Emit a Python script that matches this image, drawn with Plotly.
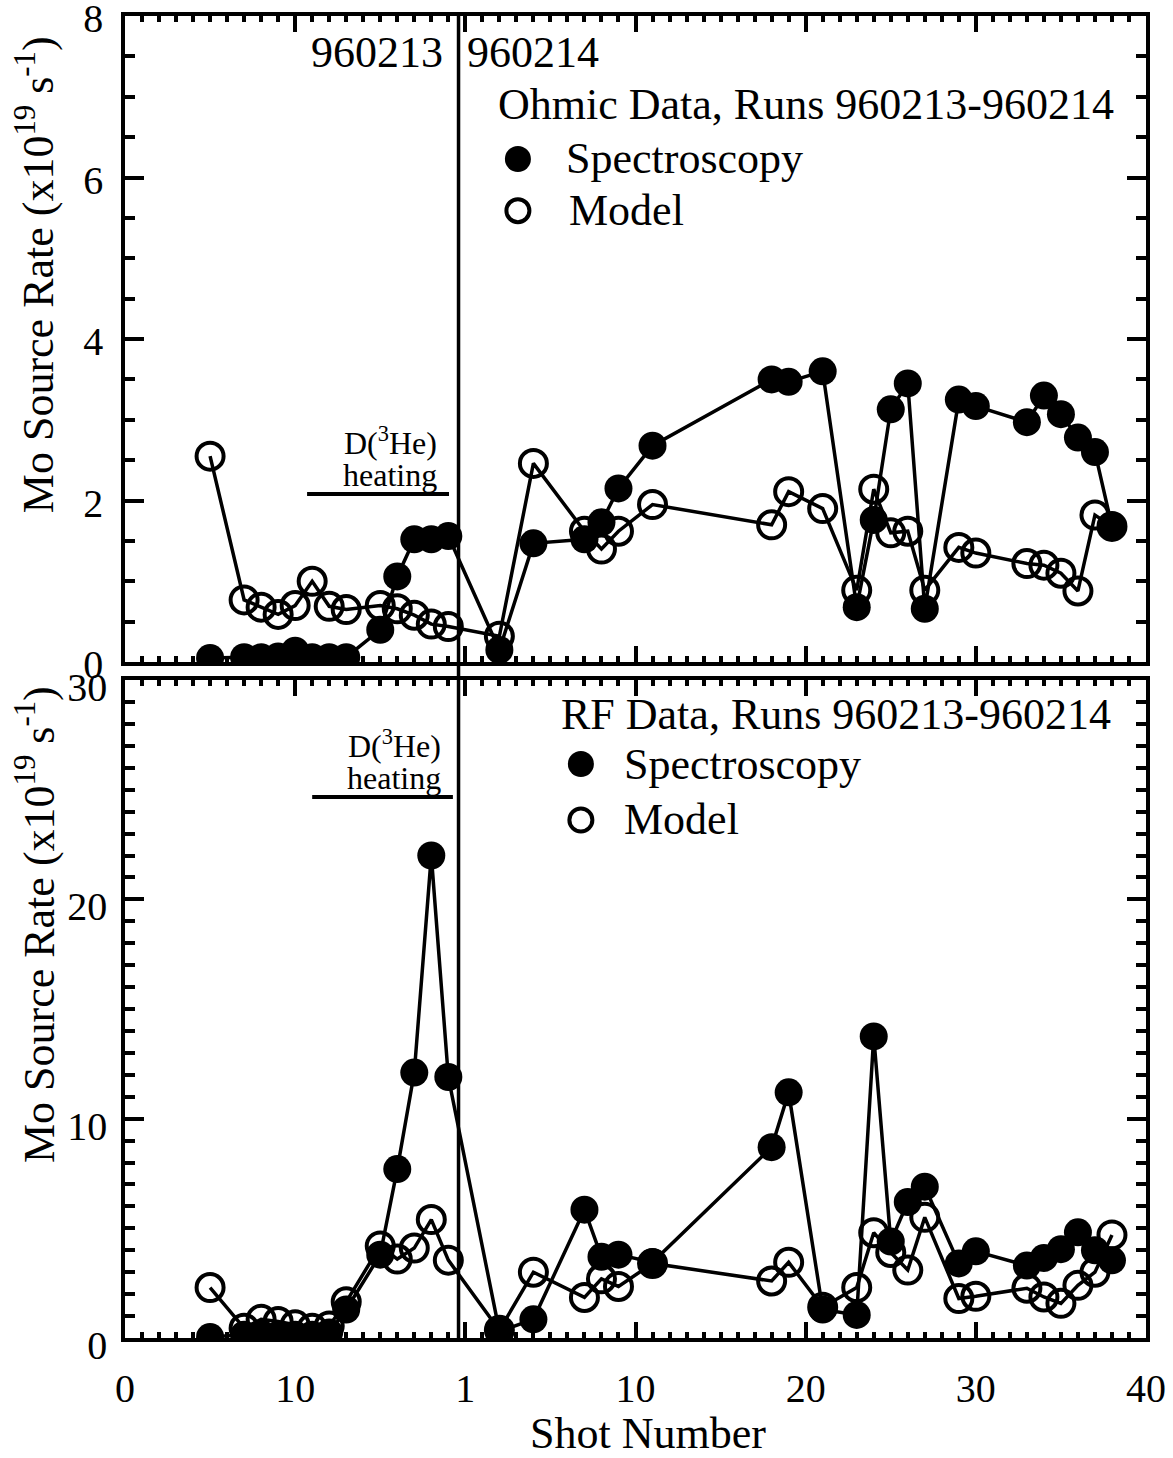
import plotly.graph_objects as go

# ---------------- data ----------------
shots = [5, 7, 8, 9, 10, 11, 12, 13, 15, 16, 17, 18, 19, 22, 24, 27, 28, 29, 31,
         38, 39, 41, 43, 44, 45, 46, 47, 49, 50, 53, 54, 55, 56, 57, 58]

ohmic_spectroscopy = [0.05, 0.06, 0.06, 0.07, 0.14, 0.06, 0.06, 0.06, 0.40, 1.06, 1.52, 1.52, 1.56,
                      0.15, 1.47, 1.52, 1.73, 2.15, 2.68, 3.50, 3.47, 3.60, 0.68, 1.76, 3.13, 3.45,
                      0.66, 3.25, 3.17, 2.97, 3.30, 3.07, 2.78, 2.60, 1.68]
ohmic_model = [2.55, 0.77, 0.68, 0.59, 0.70, 1.00, 0.69, 0.65, 0.70, 0.66, 0.58, 0.47, 0.44,
               0.32, 2.46, 1.62, 1.40, 1.62, 1.95, 1.70, 2.11, 1.90, 0.89, 2.14, 1.60, 1.62,
               0.89, 1.42, 1.35, 1.22, 1.20, 1.10, 0.88, 1.82, 1.68]

rf_spectroscopy = [0.05, 0.15, 0.20, 0.15, 0.15, 0.15, 0.25, 1.30, 3.80, 7.70, 12.10, 22.00, 11.90,
                   0.30, 0.85, 5.85, 3.70, 3.80, 3.45, 8.70, 11.20, 1.30, 1.05, 13.75, 4.40, 6.20,
                   6.90, 3.40, 3.95, 3.30, 3.65, 4.05, 4.82, 4.00, 3.54]
rf_model = [2.30, 0.45, 0.85, 0.75, 0.60, 0.45, 0.55, 1.65, 4.20, 3.60, 4.10, 5.40, 3.55,
            0.35, 3.00, 1.85, 2.70, 2.35, 3.40, 2.60, 3.45, 1.40, 2.30, 4.80, 3.90, 3.10,
            5.50, 1.80, 1.90, 2.27, 1.87, 1.58, 2.40, 3.00, 4.70]

x_tickvals = [0, 10, 20, 30, 40, 50, 60]
x_ticktext = ["0", "10", "1", "10", "20", "30", "40"]
run_boundary = 19.6
heating_start_top, heating_end_top, heating_level_top = 10.7, 19.04, 2.08
heating_start_bot, heating_end_bot, heating_level_bot = 11.0, 19.27, 24.67

SERIF = "Liberation Serif"
BLACK = "black"

fig = go.Figure()

def add_series(xa, ya, spec, model):
    fig.add_trace(go.Scatter(
        x=shots, y=spec, xaxis=xa, yaxis=ya, mode="lines+markers", name="Spectroscopy",
        showlegend=False, cliponaxis=True,
        line=dict(color=BLACK, width=3.5),
        marker=dict(symbol="circle", size=28, color=BLACK)))
    fig.add_trace(go.Scatter(
        x=shots, y=model, xaxis=xa, yaxis=ya, mode="lines+markers", name="Model",
        showlegend=False, cliponaxis=True,
        line=dict(color=BLACK, width=3.5),
        marker=dict(symbol="circle-open", size=27, color=BLACK, line=dict(width=4, color=BLACK))))

add_series("x", "y", ohmic_spectroscopy, ohmic_model)
add_series("x2", "y2", rf_spectroscopy, rf_model)

tickfont = dict(family=SERIF, size=40, color=BLACK)
common = dict(showline=True, linewidth=3.5, linecolor=BLACK, mirror="allticks",
              ticks="inside", tickwidth=3.5, tickcolor=BLACK, showgrid=False,
              zeroline=False, tickfont=tickfont, automargin=False, ticklabeloverflow="allow")

xcommon = dict(common, range=[0, 60], tickvals=x_tickvals, ticktext=x_ticktext, ticklen=16,
               minor=dict(dtick=1, ticks="inside", ticklen=6, tickwidth=3.5, tickcolor=BLACK, showgrid=False))

fig.update_layout(
    width=1173, height=1458, autosize=False,
    margin=dict(l=125, r=27, t=16, b=120),
    paper_bgcolor="white", plot_bgcolor="white",
    showlegend=False,
    xaxis=dict(xcommon, anchor="y", showticklabels=False, matches="x2"),
    xaxis2=dict(xcommon, anchor="y2", ticklabelstandoff=12),
    yaxis=dict(common, domain=[0.5113, 1.0], range=[0, 8], dtick=2, ticklen=19,
               ticklabelstandoff=10, ticklabelshift=2,
               minor=dict(dtick=0.5, ticks="inside", ticklen=10, tickwidth=3.5, tickcolor=BLACK, showgrid=False)),
    yaxis2=dict(common, domain=[0.0, 0.4977], range=[0, 30], dtick=10, ticklen=19,
                ticklabelstandoff=6, ticklabelshift=7,
                minor=dict(dtick=1, ticks="inside", ticklen=10, tickwidth=3.5, tickcolor=BLACK, showgrid=False)),
)

shapes = []
# run boundary line through both panels
shapes.append(dict(type="line", xref="x", yref="paper", x0=run_boundary, x1=run_boundary,
                   y0=0, y1=1, line=dict(color=BLACK, width=3.5)))
# heating bars
shapes.append(dict(type="line", xref="x", yref="y", x0=heating_start_top, x1=heating_end_top,
                   y0=heating_level_top, y1=heating_level_top, line=dict(color=BLACK, width=4)))
shapes.append(dict(type="line", xref="x2", yref="y2", x0=heating_start_bot, x1=heating_end_bot,
                   y0=heating_level_bot, y1=heating_level_bot, line=dict(color=BLACK, width=4)))

def legend_key(xr, yr, xc, yc, filled):
    r = 13 if filled else 11.5
    d = dict(type="circle", xref=xr, yref=yr, xsizemode="pixel", ysizemode="pixel",
             xanchor=xc, yanchor=yc, x0=-r, x1=r, y0=-r, y1=r)
    if filled:
        d.update(fillcolor=BLACK, line=dict(width=0, color=BLACK))
    else:
        d.update(fillcolor="rgba(0,0,0,0)", line=dict(width=4, color=BLACK))
    return d

shapes.append(legend_key("x", "y", 23.09, 6.23, True))
shapes.append(legend_key("x", "y", 23.09, 5.59, False))
shapes.append(legend_key("x2", "y2", 26.79, 26.17, True))
shapes.append(legend_key("x2", "y2", 26.79, 23.62, False))
fig.update_layout(shapes=shapes)

TXT = dict(family=SERIF, size=44, color=BLACK)
SMALL = dict(family=SERIF, size=32, color=BLACK)
ann = []
def a(text, x, y, xr, yr, xanchor="left", font=TXT, **kw):
    ann.append(dict(text=text, x=x, y=y, xref=xr, yref=yr, xanchor=xanchor, yanchor="middle",
                    showarrow=False, font=font, **kw))

a("960213", run_boundary, 7.55, "x", "y", xanchor="right", xshift=-14)
a("960214", run_boundary, 7.55, "x", "y", xanchor="left", xshift=6)
a("Ohmic Data, Runs 960213-960214", 21.8, 6.9, "x", "y")
a("Spectroscopy", 25.8, 6.23, "x", "y")
a("Model", 25.95, 5.59, "x", "y")
a("D(<sup>3</sup>He)", 18.45, 2.74, "x", "y", xanchor="right", font=SMALL)
a("heating", 18.45, 2.32, "x", "y", xanchor="right", font=SMALL)

a("RF Data, Runs 960213-960214", 25.5, 28.41, "x2", "y2")
a("Spectroscopy", 29.2, 26.17, "x2", "y2")
a("Model", 29.2, 23.62, "x2", "y2")
a("D(<sup>3</sup>He)", 18.68, 27.1, "x2", "y2", xanchor="right", font=SMALL)
a("heating", 18.68, 25.55, "x2", "y2", xanchor="right", font=SMALL)

ytitle = "Mo Source Rate (x10<sup>19</sup> s<sup>-1</sup>)"
a(ytitle, -0.0881, 0.804, "paper", "paper", xanchor="center", textangle=-90)
a(ytitle, -0.0881, 0.3124, "paper", "paper", xanchor="center", textangle=-90)
a("Shot Number", 0.512, -0.0726, "paper", "paper", xanchor="center")
fig.update_layout(annotations=ann)

# remove the default 8px page margin so the figure fills the window exactly
fig.write_html("out.html", config={"displayModeBar": False},
               post_script="document.body.style.margin='0';")
